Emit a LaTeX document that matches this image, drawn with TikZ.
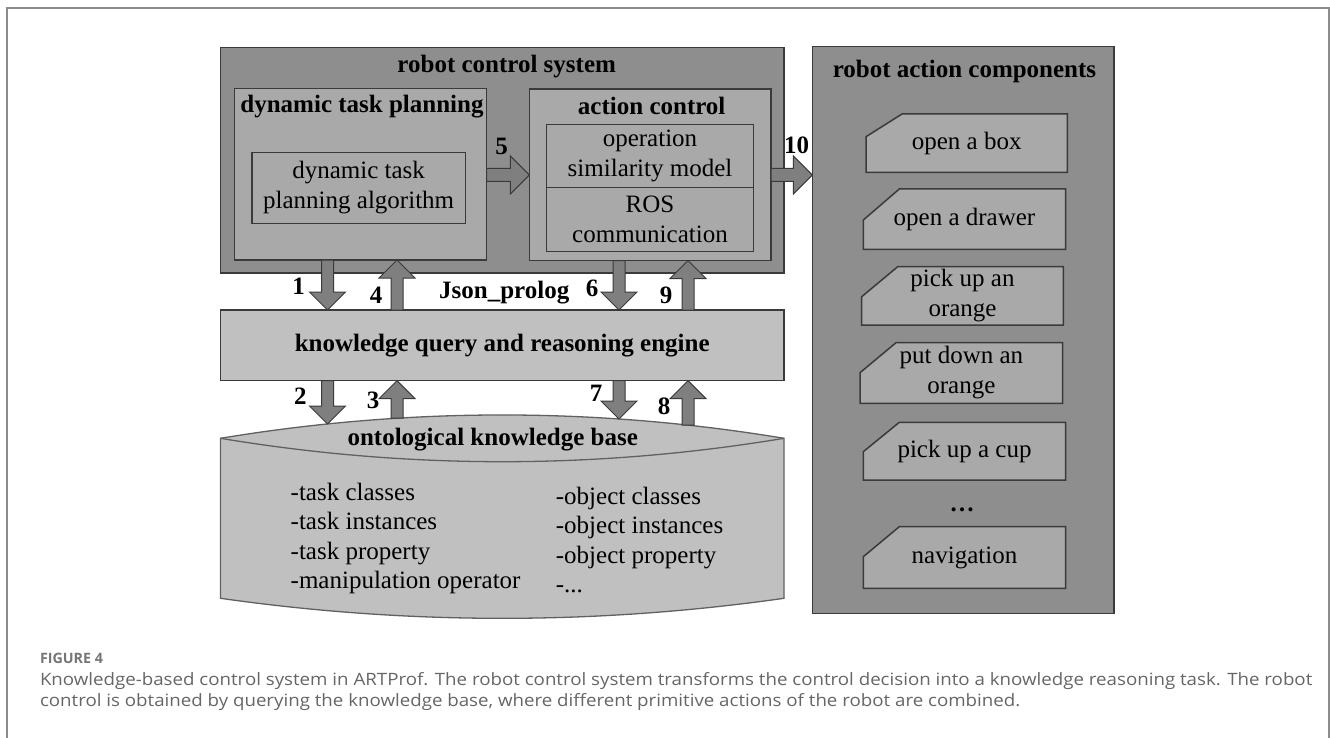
\documentclass[tikz,border=0pt]{standalone}
\usepackage{graphicx}
\usepackage{fontspec}
\setmainfont{Liberation Serif}
\newfontfamily\capfont{Open Sans}
\newfontfamily\capwide[FakeStretch=1.1]{Open Sans}
\usetikzlibrary{fit,calc}

\definecolor{panelgray}{HTML}{8E8E8E}
\definecolor{innergray}{HTML}{A9A9A9}
\definecolor{lightgray}{HTML}{C0C0C0}
\definecolor{arrowgray}{HTML}{7F7F7F}
\definecolor{edgegray}{HTML}{3A3A3A}
\definecolor{framegray}{HTML}{8C8C8C}
\definecolor{captext}{HTML}{666666}

% block arrow between two points on a common vertical line
\newcommand\vblock[2]{%
  \draw[blk] let \p1=#1, \p2=#2, \n1={18*sign(\y1-\y2)} in
    (\x1-6pt,\y1) -- (\x1-6pt,\y2+\n1) -- (\x1-18pt,\y2+\n1) -- (\x2,\y2)
    -- (\x1+18pt,\y2+\n1) -- (\x1+6pt,\y2+\n1) -- (\x1+6pt,\y1) -- cycle;}
% block arrow pointing right between two points on a common horizontal line
\newcommand\hblock[2]{%
  \draw[blk] let \p1=#1, \p2=#2 in
    (\x1,\y1+6.5pt) -- (\x2-19pt,\y1+6.5pt) -- (\x2-19pt,\y1+19pt) -- (\x2,\y2)
    -- (\x2-19pt,\y1-19pt) -- (\x2-19pt,\y1-6.5pt) -- (\x1,\y1-6.5pt) -- cycle;}
% action card with a cut upper-left corner: name, left, top, right, bottom, cut y, text
\newcommand\actionitem[7]{%
  \draw[card] (#2,#5) -- (#4,#5) -- (#4,#3) -- (#2+36,#3) -- (#2,#6) -- cycle;
  \node[txt] (#1) at ({(#2+#4)/2},{(#3+#5)/2}) {#7};}

\begin{document}
\begin{tikzpicture}[x=1pt,y=-1pt,
  every node/.style={inner sep=0pt, outer sep=0pt},
  txt/.style={font=\fontsize{25}{30}\selectfont, align=center},
  lbl/.style={font=\fontsize{25}{30}\selectfont\bfseries},
  container/.style={draw=edgegray, line width=1.5pt, inner sep=0pt, outer sep=0pt},
  blk/.style={draw=edgegray, line width=1pt, fill=arrowgray},
  card/.style={draw=edgegray, line width=1.5pt, fill=innergray},
  caption/.style={anchor=base west, text=captext, font=\capwide\fontsize{17}{21}\selectfont},
]
\useasboundingbox (0,0) rectangle (1330,738);
\fill[white] (0,0) rectangle (1330,738);
\draw[framegray, line width=2pt] (7,738) -- (7,8.5) -- (1329,8.5) -- (1329,738);

% robot control system
\node[container, fill=panelgray, fit={(220.5,47.7) (784,273)}] (rcs) {};
\node[lbl] (rcsT) at (506.7,66.7) {robot control system};
\node[container, fill=innergray, fit={(234.7,88.7) (486.7,260)}] (dtp) {};
\node[lbl] (dtpT) at (362,107) {dynamic task planning};
\node[container, fill=innergray, fit={(252,152.3) (465.3,223.3)}] (alg) {};
\node[txt] at (alg.center) {dynamic task\\planning algorithm};
\node[container, fill=innergray, fit={(529.3,89) (771,260.5)}] (ac) {};
\node[lbl] (acT) at (651.7,105.7) {action control};
\node[container, fill=innergray, fit={(546.7,124.3) (753.3,187.7)}] (osm) {};
\node[txt] at (osm.center) {operation\\similarity model};
\node[container, fill=innergray, fit={(546.7,187.7) (753.3,251.3)}] (ros) {};
\node[txt] at (ros.center) {ROS\\communication};

% robot action components
\node[container, fill=panelgray, fit={(812.3,46.7) (1114,613.3)}] (rac) {};
\node[lbl] (racT) at (964.5,71.7) {robot action components};
\actionitem{i1}{866}{114}{1067.3}{172.3}{136.7}{open a box}
\actionitem{i2}{863.3}{189}{1065.7}{249.3}{220}{open a drawer}
\actionitem{i3}{861.7}{266.7}{1063.3}{325}{296.7}{pick up an\\orange}
\actionitem{i4}{860}{342.7}{1062.7}{403.3}{372.7}{put down an\\orange}
\actionitem{i5}{863.3}{422.3}{1065.7}{480}{451.7}{pick up a cup}
\node[lbl] (dots) at (962,510) {…};
\actionitem{i6}{863.3}{526.7}{1065.7}{588.3}{556.7}{navigation}

% knowledge query and reasoning engine
\node[container, fill=lightgray, fit={(220.5,310) (784,380.7)}] (eng) {};
\node[lbl] at (eng.center) {knowledge query and reasoning engine};

% ontological knowledge base
\draw[draw=edgegray!80, line width=1.3pt, fill=lightgray]
  (220.5,438.3) .. controls (408.3,407.2) and (596.2,407.2) .. (784,438.3)
  -- (784,598.3) .. controls (596.2,625) and (408.3,625) .. (220.5,598.3) -- cycle;
\draw[edgegray!80, line width=1.3pt]
  (220.5,438.3) .. controls (408.3,469.5) and (596.2,469.5) .. (784,438.3);
\node[lbl] (kbT) at (492.7,440) {ontological knowledge base};
\foreach \t [count=\i] in {-task classes,-task instances,-task property,-manipulation operator}
  \node[txt, anchor=base west] (kl\i) at (290.7,{500+29.5*(\i-1)}) {\t};
\foreach \t [count=\i] in {-object classes,-object instances,-object property}
  \node[txt, anchor=base west] (kr\i) at (555.9,{504+29.5*(\i-1)}) {\t};
\node[txt, anchor=base west] (kr4) at (555.9,592.5) {-.{}.{}.};

% columns and rows of the block arrows
\coordinate (colA) at (327.5,0);
\coordinate (colB) at (397,0);
\coordinate (colC) at (619,0);
\coordinate (colD) at (688,0);
\coordinate (rowH) at (0,175);
\coordinate (kbA) at (327.5,424);
\coordinate (kbB) at (397,418.2);
\coordinate (kbC) at (619,419);
\coordinate (kbD) at (688,425.1);

\hblock{(dtp.east |- rowH)}{(ac.west |- rowH)}
\hblock{(ac.east |- rowH)}{(rac.west |- rowH)}
\vblock{(colA |- dtp.south)}{(colA |- eng.north)}
\vblock{(colB |- eng.north)}{(colB |- dtp.south)}
\vblock{(colC |- ac.south)}{(colC |- eng.north)}
\vblock{(colD |- eng.north)}{(colD |- ac.south)}
\vblock{(colA |- eng.south)}{(kbA)}
\vblock{(kbB)}{(colB |- eng.south)}
\vblock{(colC |- eng.south)}{(kbC)}
\vblock{(kbD)}{(colD |- eng.south)}

% arrow numbers
\node[lbl] (n1) at (298.7,286.7) {1};
\node[lbl] (n2) at (300.3,396.7) {2};
\node[lbl] (n3) at (373,400) {3};
\node[lbl] (n4) at (376,295) {4};
\node[lbl] (n5) at (501.7,146) {5};
\node[lbl] (n6) at (592.2,288) {6};
\node[lbl] (n7) at (596,393) {7};
\node[lbl] (n8) at (664.2,406.7) {8};
\node[lbl] (n9) at (666,295) {9};
\node[lbl] (n10) at (796.7,145) {10};
\node[lbl] (json) at (504.2,292.7) {Json\_prolog};

% caption
\node[caption, text=captext!90] (fig) at (40,663.3)
  {\resizebox{63pt}{!}{\capfont\bfseries\fontsize{14}{17}\selectfont FIGURE 4}};
\node[caption] (cap1) at (40,685) {Knowledge-based control system in ARTProf. The robot control system transforms the control decision into a knowledge reasoning task. The robot};
\node[caption] (cap2) at (40,706) {control is obtained by querying the knowledge base, where different primitive actions of the robot are combined.};
\end{tikzpicture}
\end{document}
